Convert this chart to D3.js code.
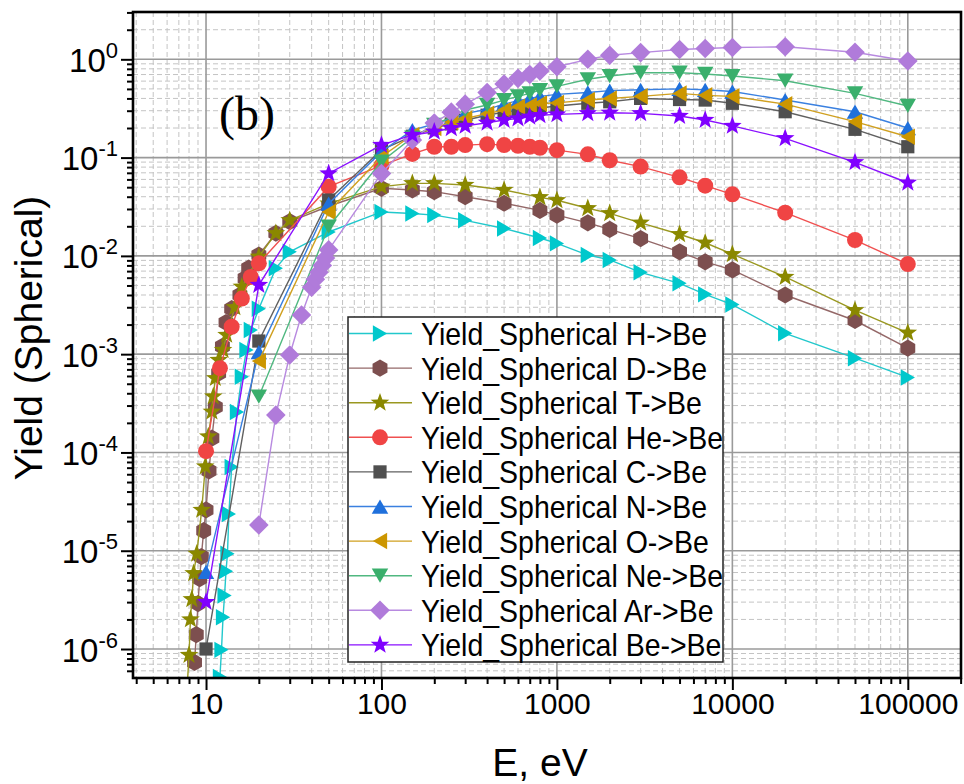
<!DOCTYPE html>
<html><head><meta charset="utf-8">
<script src="https://cdn.jsdelivr.net/npm/d3@7"></script>
<style>body{margin:0;background:#fff}svg{display:block}</style>
</head><body><svg id="c" width="964" height="784"></svg>
<script>
// ---------- DATA ----------
const seriesNames = ["Yield_Spherical H->Be","Yield_Spherical D->Be","Yield_Spherical T->Be","Yield_Spherical He->Be","Yield_Spherical C->Be","Yield_Spherical N->Be","Yield_Spherical O->Be","Yield_Spherical Ne->Be","Yield_Spherical Ar->Be","Yield_Spherical Be->Be"];

const eH = [12,12.25,12.5,12.75,13,13.25,13.5,14,15,16,17,18,20,25,30,50,100,150,200,300,500,800,1000,1500,2000,3000,5000,7000,10000,20000,50000,100000];
const yH = [5.2e-7,9.8e-7,2.1e-6,3.5e-6,6.2e-6,9.3e-6,2.36e-5,7.1e-5,2.58e-4,5.9e-4,1.1e-3,1.76e-3,2.9e-3,7.5e-3,1.1e-2,1.75e-2,2.8e-2,2.7e-2,2.6e-2,2.3e-2,1.9e-2,1.52e-2,1.34e-2,1.02e-2,9.1e-3,6.8e-3,5.26e-3,4.06e-3,3.2e-3,1.63e-3,9.1e-4,5.8e-4];

const eD = [8.6,8.8,9.0,9.2,9.4,9.7,10,10.4,10.8,11.3,11.8,12.4,13,14,15.6,16.7,17.5,20,25,30,50,100,150,200,300,500,800,1000,1500,2000,3000,5000,7000,10000,20000,50000,100000];
const yD = [7.3e-7,1.4e-6,2.9e-6,5.2e-6,8.7e-6,1.6e-5,2.6e-5,6.5e-5,1.4e-4,2.9e-4,6.4e-4,1.2e-3,2.1e-3,2.9e-3,4.0e-3,5.9e-3,7.5e-3,1.02e-2,1.7e-2,2.23e-2,3.2e-2,4.87e-2,4.68e-2,4.5e-2,4.0e-2,3.43e-2,2.9e-2,2.6e-2,2.17e-2,1.86e-2,1.5e-2,1.1e-2,8.7e-3,7.2e-3,4.0e-3,2.2e-3,1.15e-3];

const eT = [7.8,8.0,8.15,8.3,8.5,8.85,9.45,9.9,10.3,10.8,11.0,11.3,11.8,12.5,13.1,14.6,16,20,25,30,50,100,150,200,300,500,800,1000,1500,2000,3000,5000,7000,10000,20000,50000,100000];
const yT = [4e-7,8.7e-7,2.0e-6,3.2e-6,5.9e-6,9.3e-6,2.6e-5,7.2e-5,1.45e-4,2.6e-4,3.7e-4,5.7e-4,8.7e-4,1.1e-3,1.57e-3,3.0e-3,4.85e-3,9.8e-3,1.7e-2,2.3e-2,3.4e-2,5.06e-2,5.47e-2,5.47e-2,5.26e-2,4.68e-2,3.94e-2,3.68e-2,3.05e-2,2.71e-2,2.17e-2,1.66e-2,1.36e-2,1.04e-2,6.1e-3,2.8e-3,1.65e-3];

const eHe = [10,12,14,16,18,20,50,100,150,200,250,300,400,500,600,700,800,1000,1500,2000,3000,5000,7000,10000,20000,50000,100000];
const yHe = [1.03e-4,7.2e-4,1.9e-3,3.68e-3,6.1e-3,8.4e-3,5.06e-2,8.3e-2,0.109,0.129,0.129,0.134,0.137,0.134,0.132,0.129,0.126,0.119,0.108,0.094,0.081,0.063,0.0518,0.0423,0.0275,0.0145,8.26e-3];

const eC = [10,20,50,100,150,200,250,300,400,500,600,700,800,1000,1500,2000,3000,5000,7000,10000,20000,50000,100000];
const yC = [1.0e-6,1.36e-3,3.7e-2,0.12,0.165,0.2,0.22,0.24,0.27,0.29,0.30,0.31,0.32,0.335,0.357,0.37,0.40,0.39,0.385,0.357,0.293,0.194,0.129];

const eN = [10,20,50,100,150,200,250,300,400,500,600,700,800,1000,1500,2000,3000,5000,7000,10000,20000,50000,100000];
const yN = [6.1e-6,1.05e-3,3.4e-2,0.115,0.19,0.22,0.25,0.28,0.31,0.35,0.38,0.40,0.42,0.44,0.46,0.48,0.49,0.50,0.49,0.47,0.385,0.293,0.2];

const eO = [20,50,100,150,200,250,300,400,500,600,700,800,1000,1500,2000,3000,5000,7000,10000,20000,50000,100000];
const yO = [8.5e-4,2.8e-2,0.102,0.17,0.2,0.23,0.25,0.28,0.305,0.33,0.34,0.355,0.36,0.385,0.40,0.42,0.45,0.43,0.42,0.35,0.232,0.163];

const eNe = [20,50,100,150,200,250,300,400,500,600,700,800,1000,1500,2000,3000,5000,7000,10000,20000,50000,100000];
const yNe = [3.7e-4,1.98e-2,0.091,0.16,0.215,0.26,0.305,0.343,0.385,0.42,0.45,0.487,0.53,0.626,0.676,0.73,0.73,0.71,0.676,0.606,0.45,0.335];

const eAr = [20,25,30,35,40,42,44,46,48,50,100,150,200,250,300,400,500,600,700,800,1000,1500,2000,3000,5000,7000,10000,20000,50000,100000];
const yAr = [1.83e-5,2.4e-4,9.8e-4,2.5e-3,4.8e-3,5.8e-3,6.8e-3,8.0e-3,9.5e-3,1.15e-2,0.069,0.151,0.225,0.29,0.35,0.46,0.56,0.64,0.70,0.76,0.84,1.0,1.1,1.17,1.26,1.29,1.32,1.34,1.18,0.96];

const eBe = [10,20,50,100,150,200,250,300,400,500,600,700,800,1000,1500,2000,3000,5000,7000,10000,20000,50000,100000];
const yBe = [3.0e-6,5.05e-3,0.069,0.134,0.17,0.183,0.199,0.21,0.226,0.241,0.25,0.26,0.27,0.275,0.282,0.286,0.282,0.265,0.241,0.21,0.157,0.0895,0.0555];

const xTickValues = [10,100,1000,10000,100000];
const yTickValues = [1e-6,1e-5,1e-4,1e-3,1e-2,1e-1,1];
const yTickExponents = ["-6","-5","-4","-3","-2","-1","0"];

// ---------- STYLE ----------
const seriesX = [eH,eD,eT,eHe,eC,eN,eO,eNe,eAr,eBe];
const seriesY = [yH,yD,yT,yHe,yC,yN,yO,yNe,yAr,yBe];
const colors = ["#00c8cc","#7d4f4f","#8a8800","#f04444","#4f4f4f","#1f70dc","#cc9600","#3aaf6c","#b07bda","#8000ff"];
const lineColors = ["#22c8cc","#946868","#9a9820","#f05050","#606060","#3a80e0","#d0a020","#50b880","#b88ae0","#8a10ff"];
const shapes = ["triR","hex","star","circle","square","triU","triL","triD","diamond","star"];

const L = 133, R = 961, T = 12, B = 678;
const FONT = "'Liberation Sans', Arial, Helvetica, sans-serif";

const svg = d3.select('#c');
const x = d3.scaleLog().domain([3.835, 201000]).range([L, R]);
const y = d3.scaleLog().domain([5.07e-7, 3.03]).range([B, T]);

function minor(scale){
  const [a,b] = scale.domain(); const out = [];
  for (let e = Math.floor(Math.log10(a)); e <= Math.ceil(Math.log10(b)); e++)
    for (let m = 2; m <= 9; m++) { const v = m*Math.pow(10,e); if (v >= a*0.999 && v <= b*1.001) out.push(v); }
  return out;
}
const minorX = minor(x), minorY = minor(y);

// grid
const grid = svg.append('g');
grid.selectAll('.mx').data(minorX).join('line')
  .attr('x1',d=>x(d)).attr('x2',d=>x(d)).attr('y1',T).attr('y2',B)
  .attr('stroke','#c4c4c4').attr('stroke-width',1).attr('stroke-dasharray','5,3');
grid.selectAll('.my').data(minorY).join('line')
  .attr('y1',d=>y(d)).attr('y2',d=>y(d)).attr('x1',L).attr('x2',R)
  .attr('stroke','#c4c4c4').attr('stroke-width',1).attr('stroke-dasharray','5,3');
grid.selectAll('.Mx').data(xTickValues).join('line')
  .attr('x1',d=>x(d)).attr('x2',d=>x(d)).attr('y1',T).attr('y2',B)
  .attr('stroke','#9a9a9a').attr('stroke-width',1.6);
grid.selectAll('.My').data(yTickValues).join('line')
  .attr('y1',d=>y(d)).attr('y2',d=>y(d)).attr('x1',L).attr('x2',R)
  .attr('stroke','#9a9a9a').attr('stroke-width',1.6);

// marker path
function markerPath(type){
  const p = d3.path();
  const poly = pts => { p.moveTo(pts[0][0],pts[0][1]); for (let i=1;i<pts.length;i++) p.lineTo(pts[i][0],pts[i][1]); p.closePath(); };
  const r = 9.5, s3 = Math.sqrt(3)/2;
  if (type==='triR'){ const o=-r/4; poly([[r+o,0],[-r/2+o,r*s3],[-r/2+o,-r*s3]]); }
  else if (type==='triL'){ const o=r/4; poly([[-r+o,0],[r/2+o,r*s3],[r/2+o,-r*s3]]); }
  else if (type==='triU'){ const o=r/4; poly([[0,-r+o],[r*s3,r/2+o],[-r*s3,r/2+o]]); }
  else if (type==='triD'){ const o=-r/4; poly([[0,r+o],[r*s3,-r/2+o],[-r*s3,-r/2+o]]); }
  else if (type==='hex'){ const h=8.6; const pts=[]; for(let k=0;k<6;k++){const a=-Math.PI/2+k*Math.PI/3; pts.push([h*Math.cos(a),h*Math.sin(a)]);} poly(pts); }
  else if (type==='star'){ const ro=9.8, ri=4.0; const pts=[]; for(let k=0;k<10;k++){const a=-Math.PI/2+k*Math.PI/5; const rr=k%2?ri:ro; pts.push([rr*Math.cos(a),rr*Math.sin(a)]);} poly(pts); }
  else if (type==='circle'){ p.moveTo(8,0); p.arc(0,0,8,0,2*Math.PI); p.closePath(); }
  else if (type==='square'){ p.rect(-6.6,-6.6,13.2,13.2); }
  else if (type==='diamond'){ const d=9.8; poly([[0,-d],[d,0],[0,d],[-d,0]]); }
  return p.toString();
}

// data
svg.append('clipPath').attr('id','clip').append('rect').attr('x',L).attr('y',T).attr('width',R-L).attr('height',B-T);
const plot = svg.append('g').attr('clip-path','url(#clip)');
const line = d3.line().x(d=>x(d[0])).y(d=>y(d[1]));
seriesNames.forEach((name,i)=>{
  const pts = seriesX[i].map((e,k)=>[e, seriesY[i][k]]);
  const g = plot.append('g');
  g.append('path').datum(pts).attr('d',line).attr('fill','none').attr('stroke',lineColors[i]).attr('stroke-width',1.4);
  g.selectAll('path.m').data(pts).join('path').attr('class','m')
    .attr('d',markerPath(shapes[i])).attr('transform',d=>`translate(${x(d[0])},${y(d[1])})`)
    .attr('fill',colors[i]);
});

// axes
function styleAxis(g){ g.select('.domain').remove(); g.selectAll('line').attr('stroke','#000').attr('stroke-width',2); g.selectAll('text').attr('font-family',FONT).attr('font-size',30).attr('fill','#000'); }
svg.append('g').attr('transform',`translate(0,${B})`).call(d3.axisBottom(x).tickValues(minorX).tickSize(6).tickFormat('')).call(styleAxis);
svg.append('g').attr('transform',`translate(0,${B})`).call(d3.axisBottom(x).tickValues(xTickValues).tickSize(12).tickPadding(3).tickFormat(d=>String(d))).call(styleAxis);
svg.append('g').attr('transform',`translate(${L},0)`).call(d3.axisLeft(y).tickValues(minorY).tickSize(6).tickFormat('')).call(styleAxis);
const yAx = svg.append('g').attr('transform',`translate(${L},0)`).call(d3.axisLeft(y).tickValues(yTickValues).tickSize(12).tickFormat('')).call(styleAxis);
yAx.selectAll('.tick').each(function(d){
  const t = d3.select(this).append('text').attr('x',-15).attr('y',12).attr('text-anchor','end')
    .attr('font-family',FONT).attr('font-size',33).attr('fill','#000');
  t.append('tspan').text('10');
  t.append('tspan').attr('dy',-14).attr('font-size',22).text(yTickExponents[yTickValues.indexOf(d)]);
});

// frame
svg.append('rect').attr('x',L).attr('y',T).attr('width',R-L).attr('height',B-T).attr('fill','none').attr('stroke','#000').attr('stroke-width',2.6);

// labels
svg.append('text').attr('transform','translate(42,338) rotate(-90)').attr('text-anchor','middle')
  .attr('font-family',FONT).attr('font-size',39).text('Yield (Spherical)');
svg.append('text').attr('x',540).attr('y',776).attr('text-anchor','middle')
  .attr('font-family',FONT).attr('font-size',39).text('E, eV');
svg.append('text').attr('x',219).attr('y',130).attr('font-family',"'Liberation Serif','Times New Roman',serif").attr('font-size',48).text('(b)');

// legend
const lg = svg.append('g');
lg.append('rect').attr('x',348).attr('y',317).attr('width',375).attr('height',345).attr('fill','#fff').attr('stroke','#222').attr('stroke-width',1.5);
seriesNames.forEach((name,i)=>{
  const cy = 333.5 + i*34.6;
  const r = lg.append('g').attr('transform',`translate(0,${cy})`);
  r.append('line').attr('x1',349).attr('x2',412).attr('y1',0).attr('y2',0).attr('stroke',lineColors[i]).attr('stroke-width',1.4);
  r.append('path').attr('d',markerPath(shapes[i])).attr('transform','translate(380,0)').attr('fill',colors[i]);
  r.append('text').attr('transform','translate(421,0) scale(0.89,1)').attr('dy','0.36em')
    .attr('font-family',FONT).attr('font-size',32).text(name);
});
</script></body></html>
